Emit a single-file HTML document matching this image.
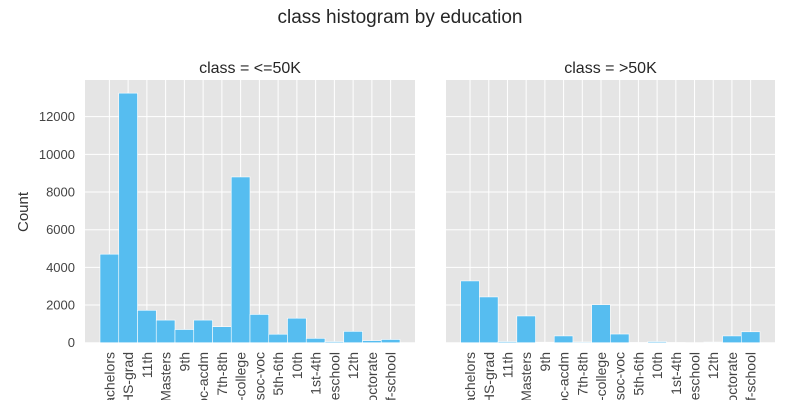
<!DOCTYPE html>
<html><head><meta charset="utf-8"><style>
html,body{margin:0;padding:0;background:#fff;overflow:hidden;width:800px;height:400px}
svg{display:block;font-family:"Liberation Sans",sans-serif;overflow:hidden}
</style></head><body>
<svg id="c" width="800" height="400" viewBox="0 0 800 400">
<defs><clipPath id="clip"><rect x="0" y="0" width="800" height="400"/></clipPath></defs>
<text x="400" y="23" text-anchor="middle" font-size="19" fill="#262626">class histogram by education</text>
<text transform="translate(28,212) rotate(-90)" text-anchor="middle" font-size="15" fill="#333">Count</text>
</svg>
<script>
const categories=["Bachelors","HS-grad","11th","Masters","9th","Assoc-acdm","7th-8th","Some-college","Assoc-voc","5th-6th","10th","1st-4th","Preschool","12th","Doctorate","Prof-school"];
const lowValues=[4700,13250,1720,1200,700,1200,850,8800,1500,450,1300,230,60,600,110,170];
const highValues=[3280,2430,60,1420,27,360,40,2020,460,12,60,6,0,33,360,580];
const yTicks=[0,2000,4000,6000,8000,10000,12000];
const panelTitles=["class = <=50K","class = >50K"];
const NS="http://www.w3.org/2000/svg";
const svg=document.getElementById('c');
function mk(t,a,p){const e=document.createElementNS(NS,t);for(const k in a)e.setAttribute(k,a[k]);(p||svg).appendChild(e);return e;}
const y0=342.7,yTop=80,yMax=(y0-yTop)/37.67*2000;
function yS(v){return y0-v/yMax*(y0-yTop);}
const panels=[{x0:85,x1:415,b0:100,b1:400,vals:lowValues},{x0:446,x1:775,b0:460.7,b1:760,vals:highValues}];
panels.forEach((p,pi)=>{
  const g=mk('g',{'clip-path':'url(#clip)'});
  
  
  mk('rect',{x:p.x0,y:yTop,width:p.x1-p.x0,height:y0-yTop,fill:'#e5e5e5'},g);
  const bw=(p.b1-p.b0)/categories.length;
  const xS=i=>p.b0+bw*i;
  yTicks.forEach(t=>{
    mk('line',{x1:p.x0,x2:p.x1,y1:yS(t),y2:yS(t),stroke:'#fff','stroke-width':1},g);
    if(pi===0){const tx=mk('text',{x:p.x0-10,y:yS(t)+4.5,'text-anchor':'end','font-size':13,fill:'#444'},g);tx.textContent=t;
      
      }
  });
  categories.forEach((c,i)=>{
    const cx=xS(i)+bw/2;
    mk('line',{x1:cx,x2:cx,y1:yTop,y2:y0,stroke:'#fff','stroke-width':1},g);
  });
  p.vals.forEach((v,i)=>{
    const r=mk('rect',{x:xS(i),y:yS(v),width:bw,height:y0-yS(v),fill:'#56bdf0',stroke:'#fff','stroke-width':0.6},g);
    
    
  });
  categories.forEach((c,i)=>{
    const cx=xS(i)+bw/2;
    const t=mk('text',{transform:`translate(${cx+5},352) rotate(-90)`,'text-anchor':'end','font-size':14,fill:'#444'},g);
    t.textContent=c;
    
    
  });
  const tt=mk('text',{x:(p.x0+p.x1)/2,y:73,'text-anchor':'middle','font-size':16,fill:'#262626'},g);
  tt.textContent=panelTitles[pi];
  
  
});
</script>
</body></html>
